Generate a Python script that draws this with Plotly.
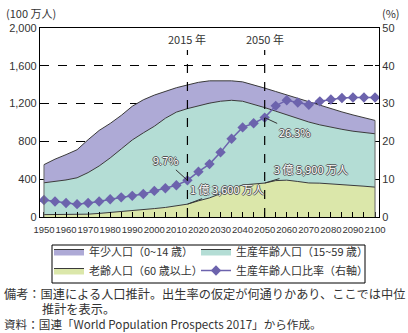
import plotly.graph_objects as go

years = list(range(1950, 2101, 5))
# population (millions)
total = [554, 612, 660, 712, 818, 916, 990, 1075, 1172, 1240, 1290, 1330, 1368, 1397,
         1425, 1441, 1443, 1441, 1430, 1400, 1364, 1328, 1292, 1250, 1215, 1178, 1145,
         1112, 1080, 1050, 1022]
elderly_working = [362, 375, 392, 415, 470, 540, 625, 720, 815, 890, 960, 1045, 1110, 1147,
                   1180, 1205, 1225, 1235, 1225, 1195, 1158, 1120, 1080, 1040, 1005, 975, 950,
                   928, 908, 893, 881]
elderly = [25, 25, 24, 24, 30, 38, 47, 56, 66, 76, 89, 101, 115, 136,
           171, 202, 247, 298, 339, 347, 359, 385, 390, 376, 360, 358, 352, 345, 336, 326, 316]
ratio = [4.5, 4.1, 3.7, 3.4, 3.7, 4.1, 4.7, 5.2, 5.6, 6.1, 6.9, 7.6, 8.4, 9.7,
         12.0, 14.0, 17.1, 20.7, 23.7, 24.8, 26.3, 29.4, 30.9, 30.3, 29.7, 30.6, 31.1,
         31.5, 31.6, 31.6, 31.6]
working = [g - e for g, e in zip(elderly_working, elderly)]
young = [t - g for t, g in zip(total, elderly_working)]

names = ["年少人口（0~14 歳）", "生産年齢人口（15~59 歳）", "老齢人口（60 歳以上）", "生産年齢人口比率（右軸）"]
marked_years = [2015, 2050]

C_YOUNG = "#aeaad6"
C_WORK = "#b4ddd5"
C_OLD = "#dbe7aa"
C_LINE = "#6c63ad"
EDGE = "#3a3a3a"
TXT = "#333333"
JP = "Noto Sans CJK JP"
NUM = "Liberation Sans, Noto Sans CJK JP"

# plot area in pixels: left 40, right 379, top 28, bottom 217
PL, PR, PT, PB = 40, 379, 28, 217
def px(xp):
    return (xp - PL) / (PR - PL)
def py(yp):
    return (PB - yp) / (PB - PT)

fig = go.Figure()
fig.add_trace(go.Scatter(x=years, y=elderly, name=names[2], stackgroup="pop",
                         mode="lines", line=dict(color=EDGE, width=1), fillcolor=C_OLD,
                         legend="legend", legendrank=2))
fig.add_trace(go.Scatter(x=years, y=working, name=names[1], stackgroup="pop",
                         mode="lines", line=dict(color=EDGE, width=1), fillcolor=C_WORK,
                         legend="legend2", legendrank=1))
fig.add_trace(go.Scatter(x=years, y=young, name=names[0], stackgroup="pop",
                         mode="lines", line=dict(color=EDGE, width=1), fillcolor=C_YOUNG,
                         legend="legend", legendrank=1))
fig.add_trace(go.Scatter(x=years, y=ratio, name=names[3], yaxis="y2",
                         mode="lines+markers", line=dict(color=C_LINE, width=1.5),
                         marker=dict(symbol="diamond", size=8, color=C_LINE),
                         legend="legend2", legendrank=2))

# left / right edges of the stacked areas
for i in (0, -1):
    fig.add_shape(type="line", x0=years[i], x1=years[i], y0=0, y1=total[i],
                  xref="x", yref="y", line=dict(color="#666", width=1), layer="above")

# marked years
for yr in marked_years:
    fig.add_shape(type="line", x0=yr, x1=yr, y0=0, y1=py(50), xref="x", yref="paper",
                  line=dict(color="black", width=1.2, dash="dash"), layer="above")
    fig.add_annotation(x=yr, y=py(49), xref="x", yref="paper", text=f"{yr} 年",
                       showarrow=False, yanchor="bottom",
                       font=dict(family=JP, size=11, color=TXT))

outline = "1px 0 0 #555, -1px 0 0 #555, 0 1px 0 #555, 0 -1px 0 #555"
i15 = years.index(2015)
i50 = years.index(2050)
fig.add_annotation(x=2015, y=ratio[i15], xref="x", yref="y2", text=f"{ratio[i15]}%",
                   showarrow=True, arrowhead=0, arrowwidth=1, arrowcolor="#333",
                   ax=-22, ay=-20, font=dict(family=JP, size=11, color="white", shadow=outline))
fig.add_annotation(x=2050, y=ratio[i50], xref="x", yref="y2", text=f"{ratio[i50]}%",
                   showarrow=True, arrowhead=0, arrowwidth=1, arrowcolor="#333",
                   ax=30, ay=14, font=dict(family=JP, size=11, color="white", shadow=outline))
fig.add_annotation(x=2015, y=elderly[i15], xref="x", yref="y", text="1 億 3,600 万人",
                   showarrow=True, arrowhead=0, arrowwidth=1, arrowcolor="#333",
                   ax=40, ay=-15, font=dict(family=JP, size=11, color="white", shadow=outline))
fig.add_annotation(x=2050, y=elderly[i50], xref="x", yref="y", text="3 億 5,900 万人",
                   showarrow=True, arrowhead=0, arrowwidth=1, arrowcolor="#333",
                   ax=46, ay=-14, font=dict(family=JP, size=11, color="white", shadow=outline))

# axis unit labels
fig.add_annotation(x=px(4), y=py(13), xref="paper", yref="paper", text="(100 万人)",
                   showarrow=False, xanchor="left", yanchor="middle",
                   font=dict(family=JP, size=11, color=TXT))
fig.add_annotation(x=px(380), y=py(13), xref="paper", yref="paper", text="(%)",
                   showarrow=False, xanchor="left", yanchor="middle",
                   font=dict(family=JP, size=11, color=TXT))

# notes
notes = [
    (2, 294, "備考：国連による人口推計。出生率の仮定が何通りかあり、ここでは中位", 12.2),
    (40, 309, "推計を表示。", 12.2),
    (2, 324, "資料：国連「World Population Prospects 2017」から作成。", 11.6),
]
for x, y, t, s in notes:
    fig.add_annotation(x=px(x), y=py(y), xref="paper", yref="paper", text=t, showarrow=False,
                       xanchor="left", yanchor="middle", font=dict(family=JP, size=s, color=TXT))

# legend frame
fig.add_shape(type="rect", x0=px(52), x1=px(365), y0=py(245), y1=py(283),
              xref="paper", yref="paper", line=dict(color="black", width=1),
              fillcolor="rgba(0,0,0,0)", layer="above")

leg_common = dict(orientation="v", yanchor="top", xanchor="left", traceorder="normal",
                  bgcolor="rgba(0,0,0,0)", borderwidth=0, tracegroupgap=0, itemwidth=30,
                  font=dict(family=JP, size=11, color=TXT))

fig.update_layout(
    width=408, height=333,
    margin=dict(l=PL, r=408 - PR, t=PT, b=333 - PB, autoexpand=False),
    paper_bgcolor="white", plot_bgcolor="white",
    showlegend=True,
    legend=dict(x=px(49), y=py(237), **leg_common),
    legend2=dict(x=px(196), y=py(237), **leg_common),
    xaxis=dict(range=[1948.2, 2101.8], tickmode="linear", tick0=1950, dtick=10, tickangle=0,
               ticks="inside", ticklen=5, tickcolor="black", ticklabelstandoff=3,
               minor=dict(dtick=5, ticks="inside", ticklen=5, tickcolor="black"),
               showgrid=False, showline=True, linecolor="black", linewidth=1.2, mirror=True,
               tickfont=dict(family=NUM, size=9.5, color=TXT), zeroline=False),
    yaxis=dict(range=[0, 2000], tickvals=[0, 400, 800, 1200, 1600, 2000], tickformat=",",
               showgrid=True, gridcolor="black", griddash="dash", gridwidth=1,
               showline=True, linecolor="black", linewidth=1.2, ticks="",
               tickfont=dict(family=NUM, size=11, color=TXT), zeroline=False),
    yaxis2=dict(range=[0, 50], tickvals=[0, 10, 20, 30, 40, 50], overlaying="y", side="right",
                showgrid=False, showline=True, linecolor="black", linewidth=1.2,
                ticks="inside", ticklen=4, tickcolor="black",
                tickfont=dict(family=NUM, size=11, color=TXT), zeroline=False),
)

fig.write_html("out.html")
